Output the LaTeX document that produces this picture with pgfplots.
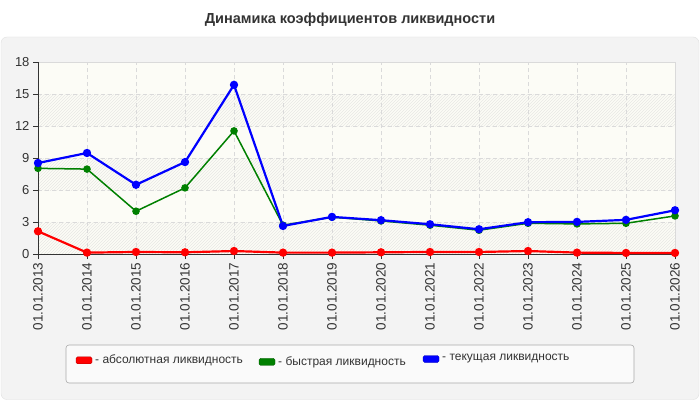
\documentclass[border=0pt]{standalone}
\usepackage{fontspec}
\setmainfont{Liberation Sans}
\usepackage{pgfplots}
\usepackage{pgfplotstable}
\pgfplotsset{compat=1.18}
\usetikzlibrary{patterns}
\definecolor{panelbg}{HTML}{F3F3F3}
\definecolor{panelborder}{HTML}{E0E0E0}
\definecolor{plotbg}{HTML}{FCFCF6}
\definecolor{hatch}{HTML}{E8E8E4}
\definecolor{gridc}{HTML}{DADADA}
\definecolor{axisc}{HTML}{333333}
\definecolor{legbg}{HTML}{FAFAFA}
\definecolor{legborder}{HTML}{AAAAAA}
\definecolor{cgreen}{HTML}{008000}

\pgfplotstableread{
x abs quick cur
0 2.13 8.03 8.53
1 0.13 7.96 9.47
2 0.19 4.01 6.49
3 0.16 6.20 8.62
4 0.28 11.54 15.86
5 0.13 2.70 2.63
6 0.13 3.45 3.48
7 0.16 3.10 3.17
8 0.19 2.70 2.79
9 0.19 2.23 2.32
10 0.28 2.88 2.98
11 0.13 2.82 3.01
12 0.10 2.88 3.20
13 0.10 3.57 4.10
}\liquidity

\begin{document}
\begin{tikzpicture}[x=1pt,y=1pt]
\fill[white] (0,0) rectangle (700,400);
\filldraw[fill=panelbg, draw=panelborder, rounded corners=6pt] (1,0.5) rectangle (699,363);
\node[font=\fontsize{14.5}{16}\selectfont\bfseries, text=axisc] at (350,380) {Динамика коэффициентов ликвидности};
% plot area background (decoration)
\fill[plotbg] (38,146) rectangle (675,338);
\fill[pattern=north east lines, pattern color=hatch] (38,146) rectangle (675,178);
\fill[pattern=north east lines, pattern color=hatch] (38,210) rectangle (675,242);
\fill[pattern=north east lines, pattern color=hatch] (38,274) rectangle (675,306);

\begin{axis}[
  at={(38pt,146pt)}, anchor=south west,
  scale only axis, width=637pt, height=192pt,
  xmin=0, xmax=13, ymin=0, ymax=18,
  ytick={0,3,...,18},
  xtick={0,...,13},
  xticklabels={01.01.2013,01.01.2014,01.01.2015,01.01.2016,01.01.2017,01.01.2018,01.01.2019,01.01.2020,01.01.2021,01.01.2022,01.01.2023,01.01.2024,01.01.2025,01.01.2026},
  x tick label style={rotate=90, anchor=east, font=\fontsize{13.5}{15}\selectfont, text=axisc},
  y tick label style={font=\fontsize{13}{15}\selectfont, text=axisc},
  /pgf/number format/assume math mode=true,
  xtick pos=bottom, ytick pos=left,
  tick align=outside,
  major tick length=5pt,
  tick style={axisc, line width=0.8pt},
  grid=major,
  major grid style={gridc, dash pattern=on 4pt off 3pt, line width=0.8pt},
  axis line style={draw=gridc, line width=0.8pt},
  clip=false,
]
\draw[axisc, line width=0.9pt] (rel axis cs:0,1) -- (rel axis cs:0,0) -- (rel axis cs:1,0);
\addplot[red, line width=2.2pt, mark=*, mark size=3pt, mark options={solid, fill=red}] table[x=x, y=abs] {\liquidity};
\addplot[cgreen, line width=1.5pt, mark=*, mark size=3pt, mark options={solid, fill=cgreen}] table[x=x, y=quick] {\liquidity};
\addplot[blue, line width=2.2pt, mark=*, mark size=3pt, mark options={solid, fill=blue}] table[x=x, y=cur] {\liquidity};
\end{axis}

% legend
\filldraw[fill=legbg, draw=legborder, line width=0.6pt, rounded corners=3pt] (66,17) rectangle (634,55);
\filldraw[fill=red, draw=red!70!black, line width=0.3pt, rounded corners=1.5pt] (76,36.2) rectangle (92,43.2);
\node[anchor=west, font=\fontsize{12}{14}\selectfont, text=axisc, inner sep=0pt] at (95,39.5) {- абсолютная ликвидность};
\filldraw[fill=cgreen, draw=cgreen!70!black, line width=0.3pt, rounded corners=1.5pt] (259,34.7) rectangle (275,41.7);
\node[anchor=west, font=\fontsize{12}{14}\selectfont, text=axisc, inner sep=0pt] at (278,38) {- быстрая ликвидность};
\filldraw[fill=blue, draw=blue!70!black, line width=0.3pt, rounded corners=1.5pt] (423,37.5) rectangle (439,44.5);
\node[anchor=west, font=\fontsize{12}{14}\selectfont, text=axisc, inner sep=0pt] at (442,41) {- текущая ликвидность};
\end{tikzpicture}
\end{document}
